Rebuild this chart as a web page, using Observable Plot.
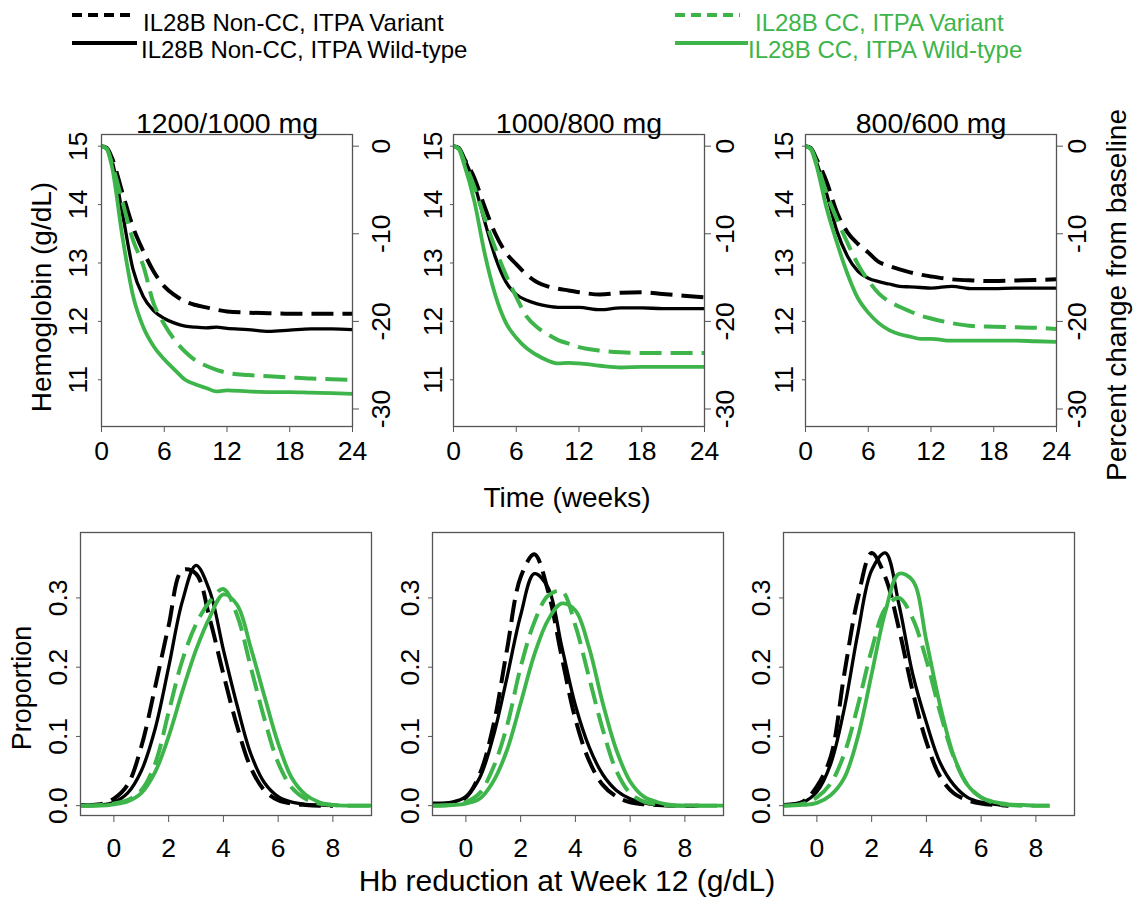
<!DOCTYPE html>
<html><head><meta charset="utf-8">
<script src="https://cdn.jsdelivr.net/npm/d3@7"></script>
<script src="https://cdn.jsdelivr.net/npm/@observablehq/plot@0.6"></script>
<style>
body{margin:0;background:#fff;font-family:"Liberation Sans",Arial,sans-serif;}
#root{position:relative;width:1135px;height:899px;overflow:hidden;background:#fff;}
.lbl{position:absolute;color:#000;white-space:nowrap;transform:translate(-50%,-50%);line-height:1;}
.rot{transform:translate(-50%,-50%) rotate(-90deg);}
</style></head><body><div id="root"></div>
<script>
// ---------- data ----------
const doseTitles = ["1200/1000 mg", "1000/800 mg", "800/600 mg"];
const seriesNames = ["IL28B Non-CC, ITPA Variant", "IL28B Non-CC, ITPA Wild-type", "IL28B CC, ITPA Variant", "IL28B CC, ITPA Wild-type"];
const weekTicks = [0, 6, 12, 18, 24];
const hbTicks = [11, 12, 13, 14, 15];
const pctTicks = [0, -10, -20, -30];
const baselineHb = 15;
const weeks = [0, 0.5, 1, 2, 3, 4, 5, 6, 7, 8, 9, 10, 11, 12, 14, 16, 18, 20, 22, 24];

// Hemoglobin (g/dL) over time; NV = Non-CC Variant, NW = Non-CC Wild-type, CV = CC Variant, CW = CC Wild-type
const hb1200NV = [15, 14.97, 14.8, 14.2, 13.62, 13.2, 12.85, 12.6, 12.45, 12.34, 12.28, 12.24, 12.2, 12.17, 12.15, 12.14, 12.13, 12.13, 12.13, 12.13];
const hb1200NW = [15, 14.96, 14.75, 13.85, 12.9, 12.42, 12.18, 12.05, 11.97, 11.92, 11.9, 11.89, 11.9, 11.88, 11.86, 11.83, 11.85, 11.87, 11.87, 11.86];
const hb1200CV = [15, 14.96, 14.7, 14.05, 13.4, 12.95, 12.3, 11.95, 11.68, 11.48, 11.33, 11.24, 11.17, 11.12, 11.08, 11.06, 11.04, 11.02, 11.01, 11.0];
const hb1200CW = [15, 14.95, 14.65, 13.45, 12.45, 11.9, 11.57, 11.35, 11.17, 11.0, 10.92, 10.86, 10.8, 10.82, 10.8, 10.79, 10.79, 10.78, 10.77, 10.76];

const hb1000NV = [15, 14.97, 14.8, 14.45, 13.95, 13.5, 13.18, 12.98, 12.8, 12.67, 12.6, 12.56, 12.53, 12.5, 12.46, 12.49, 12.5, 12.47, 12.44, 12.41];
const hb1000NW = [15, 14.96, 14.8, 14.35, 13.7, 13.1, 12.68, 12.46, 12.36, 12.3, 12.26, 12.24, 12.24, 12.24, 12.2, 12.23, 12.23, 12.22, 12.22, 12.22];
const hb1000CV = [15, 14.96, 14.75, 14.3, 13.75, 13.25, 12.8, 12.42, 12.08, 11.9, 11.78, 11.68, 11.62, 11.56, 11.5, 11.47, 11.46, 11.46, 11.46, 11.46];
const hb1000CW = [15, 14.95, 14.7, 14.05, 13.15, 12.45, 11.98, 11.72, 11.54, 11.42, 11.33, 11.28, 11.29, 11.28, 11.24, 11.21, 11.22, 11.22, 11.22, 11.22];

const hb800NV = [15, 14.97, 14.8, 14.4, 13.87, 13.53, 13.33, 13.18, 13.02, 12.95, 12.89, 12.84, 12.8, 12.77, 12.72, 12.7, 12.69, 12.7, 12.71, 12.72];
const hb800NW = [15, 14.96, 14.75, 14.2, 13.55, 13.12, 12.86, 12.74, 12.68, 12.64, 12.6, 12.59, 12.58, 12.57, 12.6, 12.56, 12.56, 12.57, 12.57, 12.57];
const hb800CV = [15, 14.96, 14.75, 14.2, 13.75, 13.35, 12.98, 12.7, 12.48, 12.34, 12.25, 12.17, 12.1, 12.05, 11.97, 11.92, 11.91, 11.9, 11.89, 11.87];
const hb800CW = [15, 14.95, 14.7, 13.95, 13.35, 12.82, 12.4, 12.15, 11.97, 11.85, 11.78, 11.74, 11.7, 11.7, 11.67, 11.67, 11.67, 11.67, 11.66, 11.65];

// Distribution of Hb reduction at week 12
const reductionGrid = [-1.2, -0.5, 0, 0.5, 1, 1.5, 2, 2.5, 3, 3.5, 4, 4.5, 5, 5.5, 6, 6.5, 7, 7.5, 8, 8.5, 9, 9.4];
const reductionTicks = [0, 2, 4, 6, 8];
const proportionTicks = [0, 0.1, 0.2, 0.3];

const pr1200NV = [0.001, 0.002, 0.01, 0.03, 0.085, 0.17, 0.26, 0.34, 0.335, 0.27, 0.19, 0.115, 0.055, 0.022, 0.008, 0.003, 0.001, 0, 0, null, null, null];
const pr1200NW = [0, 0.001, 0.005, 0.018, 0.05, 0.11, 0.2, 0.295, 0.347, 0.31, 0.225, 0.145, 0.075, 0.033, 0.013, 0.005, 0.002, 0.001, 0, null, null, null];
const pr1200CV = [0, 0.001, 0.003, 0.008, 0.022, 0.06, 0.135, 0.21, 0.262, 0.295, 0.313, 0.275, 0.2, 0.125, 0.062, 0.026, 0.01, 0.003, 0.001, 0, 0, 0];
const pr1200CW = [0, 0, 0.002, 0.006, 0.018, 0.048, 0.1, 0.165, 0.225, 0.272, 0.305, 0.29, 0.228, 0.158, 0.09, 0.04, 0.016, 0.005, 0.001, 0, 0, 0];

const pr1000NV = [0.003, 0.004, 0.012, 0.045, 0.115, 0.225, 0.33, 0.363, 0.31, 0.215, 0.125, 0.065, 0.03, 0.013, 0.005, 0.002, 0.001, 0, 0, 0, null, null];
const pr1000NW = [0.003, 0.005, 0.013, 0.04, 0.1, 0.185, 0.275, 0.335, 0.315, 0.23, 0.145, 0.085, 0.045, 0.022, 0.01, 0.004, 0.001, 0, 0, 0, null, null];
const pr1000CV = [0, 0.001, 0.005, 0.018, 0.055, 0.115, 0.2, 0.265, 0.303, 0.31, 0.26, 0.185, 0.11, 0.05, 0.018, 0.006, 0.002, 0, 0, 0, 0, 0];
const pr1000CW = [0, 0.001, 0.003, 0.01, 0.035, 0.08, 0.148, 0.218, 0.268, 0.292, 0.282, 0.228, 0.148, 0.08, 0.035, 0.013, 0.005, 0.001, 0, 0, 0, 0];

const pr800NV = [0.001, 0.006, 0.028, 0.07, 0.19, 0.3, 0.365, 0.33, 0.255, 0.165, 0.092, 0.042, 0.018, 0.008, 0.003, 0.001, 0, null, null, null, null, null];
const pr800NW = [0.001, 0.005, 0.02, 0.06, 0.14, 0.25, 0.34, 0.365, 0.29, 0.19, 0.12, 0.062, 0.03, 0.012, 0.005, 0.002, 0, null, null, null, null, null];
const pr800CV = [0, 0.003, 0.012, 0.032, 0.075, 0.145, 0.225, 0.285, 0.3, 0.27, 0.21, 0.135, 0.07, 0.03, 0.012, 0.004, 0.001, 0, 0, 0, null, null];
const pr800CW = [0, 0.001, 0.004, 0.015, 0.04, 0.1, 0.19, 0.28, 0.335, 0.325, 0.238, 0.145, 0.072, 0.03, 0.012, 0.005, 0.002, 0.001, 0, 0, null, null];

// ---------- assembly ----------
const hbByDose = [[hb1200NV, hb1200NW, hb1200CV, hb1200CW], [hb1000NV, hb1000NW, hb1000CV, hb1000CW], [hb800NV, hb800NW, hb800CV, hb800CW]];
const prByDose = [[pr1200NV, pr1200NW, pr1200CV, pr1200CW], [pr1000NV, pr1000NW, pr1000CV, pr1000CW], [pr800NV, pr800NW, pr800CV, pr800CW]];

const GREEN = "#3db54a";
const FRAME = "#555";
const FONT = '"Liberation Sans", Arial, Helvetica, sans-serif';
const TICKFONT = 26.5;
const seriesStyle = [
  {stroke: "#000", strokeWidth: 4, strokeDasharray: "22,9"},
  {stroke: "#000", strokeWidth: 3.3},
  {stroke: GREEN, strokeWidth: 4, strokeDasharray: "22,9"},
  {stroke: GREEN, strokeWidth: 3.8}
];

const root = document.getElementById("root");
function place(el, left, top) {
  el.style.position = "absolute";
  el.style.left = left + "px";
  el.style.top = top + "px";
  root.appendChild(el);
}
const baseStyle = {fontFamily: FONT, fontSize: "26px", color: "#000", background: "none", overflow: "visible"};

// top row
const topFrameLeft = [101, 453, 805];
const topRightDx = [29, 21, 21];
const topLeftDx = [-23, -20, -21];
topFrameLeft.forEach((fl, i) => {
  const ml = 45, mr = 45, mt = 45, mb = 40, fw = 251, fh = 292;
  const lines = hbByDose[i].map((vals, s) =>
    Plot.line(weeks.map((w, j) => ({t: w, hb: vals[j]})), {x: "t", y: "hb", curve: "monotone-x", strokeLinecap: "butt", ...seriesStyle[s]}));
  const svg = Plot.plot({
    width: fw + ml + mr, height: fh + mt + mb,
    marginLeft: ml, marginRight: mr, marginTop: mt, marginBottom: mb,
    x: {domain: [0, 24], axis: null},
    y: {domain: [10.2, 15.2], axis: null},
    style: baseStyle,
    marks: [
      ...lines,
      Plot.frame({stroke: FRAME, strokeWidth: 1.3}),
      Plot.axisX({ticks: weekTicks, tickSize: 6, tickFormat: () => "", label: null, stroke: FRAME}),
      Plot.axisY({anchor: "left", ticks: hbTicks, tickSize: 3, tickFormat: () => "", label: null, stroke: FRAME}),
      Plot.axisY({anchor: "right", ticks: pctTicks.map(p => baselineHb * (1 + p / 100)), tickSize: 6, tickFormat: () => "", label: null, stroke: FRAME}),
      Plot.text(weekTicks, {x: d => d, frameAnchor: "bottom", dy: 25, text: d => String(d), fontSize: TICKFONT, lineAnchor: "middle"}),
      Plot.text(hbTicks, {y: d => d, frameAnchor: "left", dx: topLeftDx[i], rotate: -90, text: d => String(d), fontSize: TICKFONT, textAnchor: "middle", lineAnchor: "middle"}),
      Plot.text(pctTicks, {y: d => baselineHb * (1 + d / 100), frameAnchor: "right", dx: topRightDx[i], rotate: -90, text: d => String(d), fontSize: TICKFONT, textAnchor: "middle", lineAnchor: "middle"}),
      Plot.text([doseTitles[i]], {frameAnchor: "top", dy: -2, text: d => d, fontSize: 28.5, lineAnchor: "bottom"})
    ]
  });
  place(svg, fl - ml, 134 - mt);
});

// bottom row
const botFrameLeft = [80, 432, 783];
botFrameLeft.forEach((fl, i) => {
  const ml = 45, mr = 45, mt = 20, mb = 50, fw = 291, fh = 283;
  const lines = prByDose[i].map((vals, s) =>
    Plot.line(reductionGrid.map((x, j) => ({x, p: vals[j]})), {x: "x", y: "p", curve: "catmull-rom", strokeLinecap: "butt", ...seriesStyle[s]}));
  const svg = Plot.plot({
    width: fw + ml + mr, height: fh + mt + mb,
    marginLeft: ml, marginRight: mr, marginTop: mt, marginBottom: mb,
    x: {domain: [-1.22, 9.41], axis: null},
    y: {domain: [-0.0142, 0.3945], axis: null},
    style: baseStyle,
    marks: [
      ...lines,
      Plot.frame({stroke: FRAME, strokeWidth: 1.3}),
      Plot.axisX({ticks: reductionTicks, tickSize: 7, tickFormat: () => "", label: null, stroke: FRAME}),
      Plot.axisY({anchor: "left", ticks: proportionTicks, tickSize: 4, tickFormat: () => "", label: null, stroke: FRAME}),
      Plot.text(reductionTicks, {x: d => d, frameAnchor: "bottom", dy: 33, text: d => String(d), fontSize: TICKFONT, lineAnchor: "middle"}),
      Plot.text(proportionTicks, {y: d => d, frameAnchor: "left", dx: -22, rotate: -90, text: d => d.toFixed(1), fontSize: TICKFONT, textAnchor: "middle", lineAnchor: "middle"})
    ]
  });
  place(svg, fl - ml, 532 - mt);
});

// axis titles
function label(text, x, y, size, rot) {
  const d = document.createElement("div");
  d.className = "lbl" + (rot ? " rot" : "");
  d.textContent = text;
  d.style.left = x + "px";
  d.style.top = y + "px";
  d.style.fontSize = size + "px";
  root.appendChild(d);
}
label("Hemoglobin (g/dL)", 42, 297, 28, true);
label("Time (weeks)", 567, 498, 28, false);
label("Percent change from baseline", 1117, 295, 28, true);
label("Proportion", 22, 688, 27, true);
label("Hb reduction at Week 12 (g/dL)", 567, 881, 30, false);

// legend
const ns = "http://www.w3.org/2000/svg";
const leg = document.createElementNS(ns, "svg");
leg.setAttribute("width", 1135); leg.setAttribute("height", 70);
leg.style.position = "absolute"; leg.style.left = "0px"; leg.style.top = "0px";
const legendItems = [
  {x1: 72, x2: 130, y: 15, tx: 143, ty: 31, color: "#000", dash: "10,6"},
  {x1: 72, x2: 137, y: 43, tx: 141, ty: 58, color: "#000", dash: null},
  {x1: 675, x2: 740, y: 15, tx: 755, ty: 31, color: GREEN, dash: "10,6"},
  {x1: 675, x2: 748, y: 43, tx: 748, ty: 58, color: GREEN, dash: null}
];
legendItems.forEach((it, k) => {
  const l = document.createElementNS(ns, "line");
  l.setAttribute("x1", it.x1); l.setAttribute("x2", it.x2);
  l.setAttribute("y1", it.y); l.setAttribute("y2", it.y);
  l.setAttribute("stroke", it.color); l.setAttribute("stroke-width", 4);
  if (it.dash) l.setAttribute("stroke-dasharray", it.dash);
  leg.appendChild(l);
  const t = document.createElementNS(ns, "text");
  t.setAttribute("x", it.tx); t.setAttribute("y", it.ty);
  t.setAttribute("fill", it.color);
  t.setAttribute("font-family", FONT); t.setAttribute("font-size", 24);
  t.textContent = seriesNames[k];
  leg.appendChild(t);
});
root.appendChild(leg);
</script></body></html>
